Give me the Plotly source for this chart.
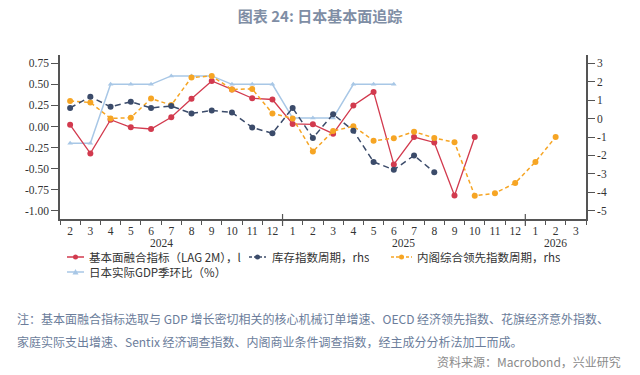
import plotly.graph_objects as go

# ---------------- data ----------------
months = ["2024-02", "2024-03", "2024-04", "2024-05", "2024-06", "2024-07", "2024-08",
          "2024-09", "2024-10", "2024-11", "2024-12", "2025-01", "2025-02", "2025-03",
          "2025-04", "2025-05", "2025-06", "2025-07", "2025-08", "2025-09", "2025-10",
          "2025-11", "2025-12", "2026-01", "2026-02", "2026-03"]
month_labels = ["2", "3", "4", "5", "6", "7", "8", "9", "10", "11", "12", "1", "2", "3",
                "4", "5", "6", "7", "8", "9", "10", "11", "12", "1", "2", "3"]
year_labels = ["2024", "2025", "2026"]

fundamental = [0.02, -0.32, 0.08, -0.01, -0.03, 0.11, 0.33, 0.54, 0.44, 0.335, 0.32,
               0.03, 0.025, -0.085, 0.25, 0.41, -0.45, -0.125, -0.19, -0.82, -0.125]
inventory = [0.58, 1.18, 0.64, 0.91, 0.58, 0.68, 0.28, 0.44, 0.33, -0.48, -0.80,
             0.58, -1.05, 0.24, -0.66, -2.35, -2.78, -2.00, -2.91]
cabinet = [0.95, 0.87, 0.01, 0.05, 1.09, 0.73, 2.23, 2.31, 1.58, 1.61, 0.28,
           0.01, -1.79, -0.68, -0.41, -1.20, -1.07, -0.71, -1.05, -1.29,
           -4.19, -4.05, -3.50, -2.35, -1.00]
gdp = [-0.2, -0.2, 0.5, 0.5, 0.5, 0.6, 0.6, 0.6, 0.5, 0.5, 0.5, 0.1, 0.1, 0.1, 0.5, 0.5, 0.5]

left_ticks = [-1.0, -0.75, -0.5, -0.25, 0.0, 0.25, 0.5, 0.75]
right_ticks = [-5, -4, -3, -2, -1, 0, 1, 2, 3]

names = ["基本面融合指标（LAG 2M），l", "库存指数周期，rhs", "内阁综合领先指数周期，rhs", "日本实际GDP季环比（%）"]

# ---------------- style ----------------
RED = "#d23a4e"
NAVY = "#3b4b6a"
ORANGE = "#f6a524"
LBLUE = "#a8c7e6"
AX = "#555555"
TICKFONT = dict(family="Liberation Serif", size=11.5, color="#333333")

W, H = 640, 375
ML, MR, MT, MB = 60, 54, 55, 156
PW, PH = W - ML - MR, H - MT - MB


def px(x):
    return (x - ML) / PW


def py(y):
    return (H - MB - y) / PH


fig = go.Figure()

fig.add_trace(go.Scatter(x=months[:len(gdp)], y=gdp, name=names[3], mode="lines+markers",
                         line=dict(color=LBLUE, width=1.5),
                         marker=dict(symbol="triangle-up", size=5, color=LBLUE),
                         showlegend=False))
fig.add_trace(go.Scatter(x=months[:len(cabinet)], y=cabinet, name=names[2], mode="lines+markers",
                         yaxis="y2", line=dict(color=ORANGE, width=1.5, dash="4px,3px"),
                         marker=dict(size=6, color=ORANGE), showlegend=False))
fig.add_trace(go.Scatter(x=months[:len(inventory)], y=inventory, name=names[1], mode="lines+markers",
                         yaxis="y2", line=dict(color=NAVY, width=1.5, dash="6px,4px"),
                         marker=dict(size=6, color=NAVY), showlegend=False))
fig.add_trace(go.Scatter(x=months[:len(fundamental)], y=fundamental, name=names[0], mode="lines+markers",
                         line=dict(color=RED, width=1.3),
                         marker=dict(size=6, color=RED), showlegend=False))

shapes = []
annotations = []

# year divider ticks
for b in [10.5, 22.5]:
    shapes.append(dict(type="line", xref="x", yref="paper", x0=b, x1=b,
                       y0=py(226), y1=py(214), line=dict(color=AX, width=1.2)))

# year labels
for lab, pos in zip(year_labels, [4.5, 16.5, 24]):
    annotations.append(dict(text=lab, x=pos, xref="x", y=py(243), yref="paper",
                            showarrow=False, font=TICKFONT, xanchor="center", yanchor="middle"))

# manual legend
LEGFONT = dict(family="Noto Sans CJK SC", size=11.5, color="#333333")
leg = [
    (67, 84, 257, RED, "solid", "circle", 87, names[0]),
    (249, 266, 257, NAVY, "3px,2px", "circle", 270, names[1]),
    (391, 412, 257, ORANGE, "3px,2px", "circle", 415, names[2]),
    (67, 84, 272, LBLUE, "solid", "tri", 87, names[3]),
]
for x0, x1, yy, col, dash, sym, tx, txt in leg:
    shapes.append(dict(type="line", xref="paper", yref="paper", x0=px(x0), x1=px(x1),
                       y0=py(yy), y1=py(yy), line=dict(color=col, width=1.5, dash=dash)))
    cx = (x0 + x1) / 2
    if sym == "circle":
        shapes.append(dict(type="circle", xref="paper", yref="paper",
                           x0=px(cx - 2.5), x1=px(cx + 2.5), y0=py(yy + 2.5), y1=py(yy - 2.5),
                           fillcolor=col, line=dict(color=col, width=0)))
    else:
        shapes.append(dict(type="path", xref="paper", yref="paper",
                           path=f"M {px(cx-3)} {py(yy+2.5)} L {px(cx+3)} {py(yy+2.5)} L {px(cx)} {py(yy-3)} Z",
                           fillcolor=col, line=dict(color=col, width=0)))
    annotations.append(dict(text=txt, x=px(tx), y=py(yy), xref="paper", yref="paper",
                            xanchor="left", yanchor="middle", showarrow=False, font=LEGFONT,
                            height=14))

# notes
NOTE = dict(family="Noto Sans CJK SC", size=12, color="#6b7d9b")
annotations.append(dict(text="注：基本面融合指标选取与 GDP 增长密切相关的核心机械订单增速、OECD 经济领先指数、花旗经济意外指数、",
                        x=px(15), y=py(318), xref="paper", yref="paper", xanchor="left",
                        yanchor="middle", showarrow=False, font=NOTE))
annotations.append(dict(text="家庭实际支出增速、Sentix 经济调查指数、内阁商业条件调查指数，经主成分分析法加工而成。",
                        x=px(15), y=py(341), xref="paper", yref="paper", xanchor="left",
                        yanchor="middle", showarrow=False, font=NOTE))
annotations.append(dict(text="资料来源：Macrobond，兴业研究",
                        x=px(623), y=py(361), xref="paper", yref="paper", xanchor="right",
                        yanchor="middle", showarrow=False,
                        font=dict(family="Noto Sans CJK SC", size=12, color="#8a8a8a")))

fig.update_layout(
    width=W, height=H,
    margin=dict(l=ML, r=MR, t=MT, b=MB, pad=0),
    paper_bgcolor="white", plot_bgcolor="white",
    title=dict(text="<b>图表 24: 日本基本面追踪</b>", x=0.5, xanchor="center",
               y=1 - 17 / H, yanchor="middle",
               font=dict(family="Noto Sans CJK SC", size=15, color="#7f8ea5")),
    xaxis=dict(type="category", categoryorder="array", categoryarray=months,
               range=[-0.5, len(months) - 0.5],
               tickvals=months, ticktext=month_labels, tickson="boundaries",
               ticks="outside", ticklen=4, tickcolor=AX, tickwidth=1,
               showline=True, linecolor=AX, linewidth=1.5, showgrid=False,
               zeroline=False, tickfont=TICKFONT, tickangle=0),
    yaxis=dict(range=[-1.098, 0.848], tickvals=left_ticks,
               ticktext=[f"{v:.2f}" for v in left_ticks],
               ticks="outside", ticklen=7, tickcolor=AX, tickwidth=1,
               showline=True, linecolor=AX, linewidth=1.5, showgrid=False,
               zeroline=False, tickfont=TICKFONT),
    yaxis2=dict(range=[-5.45, 3.45], tickvals=right_ticks,
                ticktext=[str(v) for v in right_ticks],
                overlaying="y", side="right",
                ticks="outside", ticklen=7, tickcolor=AX, tickwidth=1,
                showline=True, linecolor=AX, linewidth=1.5, showgrid=False,
                zeroline=False, tickfont=TICKFONT),
    shapes=shapes,
    annotations=annotations,
    showlegend=False,
)

fig.write_html("out.html", config={"displayModeBar": False},
               post_script="document.body.style.margin='0';document.body.style.overflow='hidden';")
